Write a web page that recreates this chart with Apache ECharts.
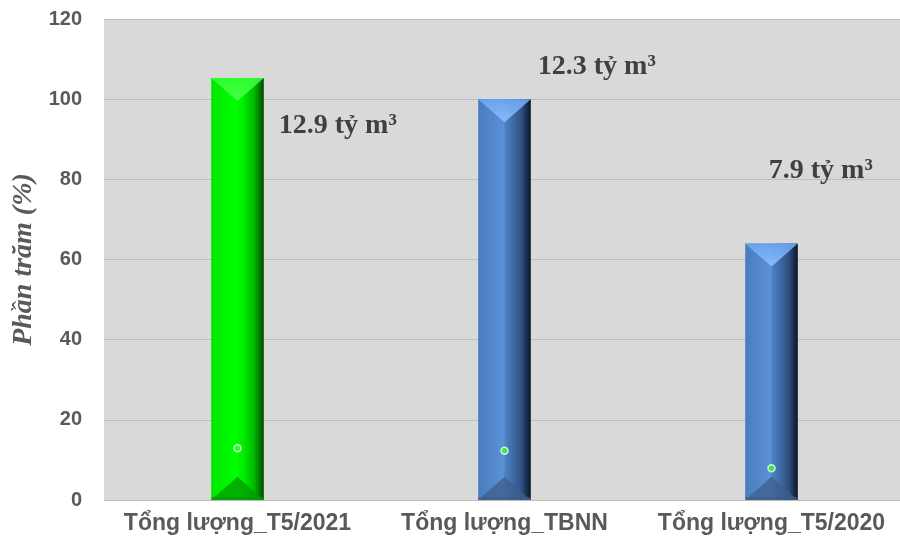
<!DOCTYPE html>
<html><head><meta charset="utf-8">
<script src="https://cdn.jsdelivr.net/npm/echarts@6/dist/echarts.min.js"></script>
<style>html,body{margin:0;padding:0;background:#fff;overflow:hidden;width:900px;height:544px}#c{width:912px;height:544px}</style>
</head><body><div id="c"></div>
<script>
const categories = ['Tổng lượng_T5/2021', 'Tổng lượng_TBNN', 'Tổng lượng_T5/2020'];
const percentValues = [105.3, 100, 64];
const volumeValues = [12.9, 12.3, 7.9];
const yTicks = [0, 20, 40, 60, 80, 100, 120];

const palettes = [
  {body: [['#00e600',0],['#00ff00',0.45],['#00f000',0.6],['#00b800',0.82],['#004a00',1]], top:'#33ff33', topApex:'#4dff4d', bottom:'#009a00'},
  {body: [['#4a7cbd',0],['#5b91d6',0.48],['#4d80c2',0.52],['#2f5285',0.82],['#0a1424',1]], top:'#6aa6ee', topApex:'#8cc0ff', bottom:'#3d5d88'},
  {body: [['#4a7cbd',0],['#5b91d6',0.48],['#4d80c2',0.52],['#2f5285',0.82],['#0a1424',1]], top:'#6aa6ee', topApex:'#8cc0ff', bottom:'#3d5d88'}
];
const labelOffsets = [[15, 48, 'left'], [7, -32, 'left'], [-29, -73, 'left']];

function grad(stops){
  return new echarts.graphic.LinearGradient(0,0,1,0, stops.map(s=>({offset:s[1], color:s[0]})));
}

const chart = echarts.init(document.getElementById('c'), null, {renderer:'canvas'});
chart.setOption({
  animation:false,
  grid:{left:104, top:19, width:801, bottom:44, show:true, backgroundColor:'#d9d9d9', borderWidth:0},
  xAxis:{type:'category', data:categories,
    axisLine:{show:false}, axisTick:{show:false},
    axisLabel:{interval:0, color:'#595959', fontFamily:'Liberation Sans, Arial', fontWeight:'bold', fontSize:23, margin:12}},
  yAxis:{type:'value', min:0, max:120, interval:20,
    name:'Phần trăm (%)', nameLocation:'middle', nameGap:58, nameRotate:90,
    nameTextStyle:{color:'#595959', fontFamily:'Liberation Serif, Times New Roman', fontStyle:'italic', fontWeight:'bold', fontSize:28},
    axisLine:{show:false}, axisTick:{show:false},
    axisLabel:{color:'#595959', fontFamily:'Liberation Sans, Arial', fontWeight:'bold', fontSize:20, margin:22,
      formatter:v=>yTicks.includes(v)?String(v):''},
    splitLine:{lineStyle:{color:'#bdbdbd', width:1}}},
  series:[
    {type:'custom', data:percentValues.map((v,i)=>[i,v]), z:3,
      renderItem:(params, api)=>{
        const i = params.dataIndex;
        const top = api.coord([api.value(0), api.value(1)]);
        const bot = api.coord([api.value(0), 0]);
        const band = api.size([1,0])[0];
        const w = band*0.197;
        const l = top[0]-w/2, r = top[0]+w/2;
        const pal = palettes[i];
        const bev = w*0.44;
        const off = labelOffsets[i];
        return {type:'group', children:[
          {type:'rect', shape:{x:l, y:top[1], width:w, height:bot[1]-top[1]}, style:{fill:grad(pal.body)}},
          {type:'polygon', shape:{points:[[l,top[1]],[r,top[1]],[top[0],top[1]+bev]]},
            style:{fill:new echarts.graphic.LinearGradient(0,0,0,1,[{offset:0,color:pal.top},{offset:1,color:pal.topApex}]), opacity:0.9}},
          {type:'polygon', shape:{points:[[l,bot[1]],[r,bot[1]],[top[0],bot[1]-bev]]},
            style:{fill:pal.bottom, opacity:0.75}},
          {type:'rect', shape:{x:l, y:bot[1]-3, width:w, height:3}, style:{fill:pal.bottom, opacity:0.6}},
          {type:'text', style:{x:r+off[0], y:top[1]+off[1], text:volumeValues[i]+' tỷ m³',
            fill:'#404040', font:'bold 28px "Liberation Serif", "Times New Roman", serif', align:off[2], verticalAlign:'middle'}}
        ]};
      }},
    {type:'scatter', data:volumeValues.map((v,i)=>[i,v]), z:5, symbolSize:7,
      itemStyle:{color:'#33ff33', borderColor:'#f4fff4', borderWidth:1.5}}
  ]
});
</script></body></html>
